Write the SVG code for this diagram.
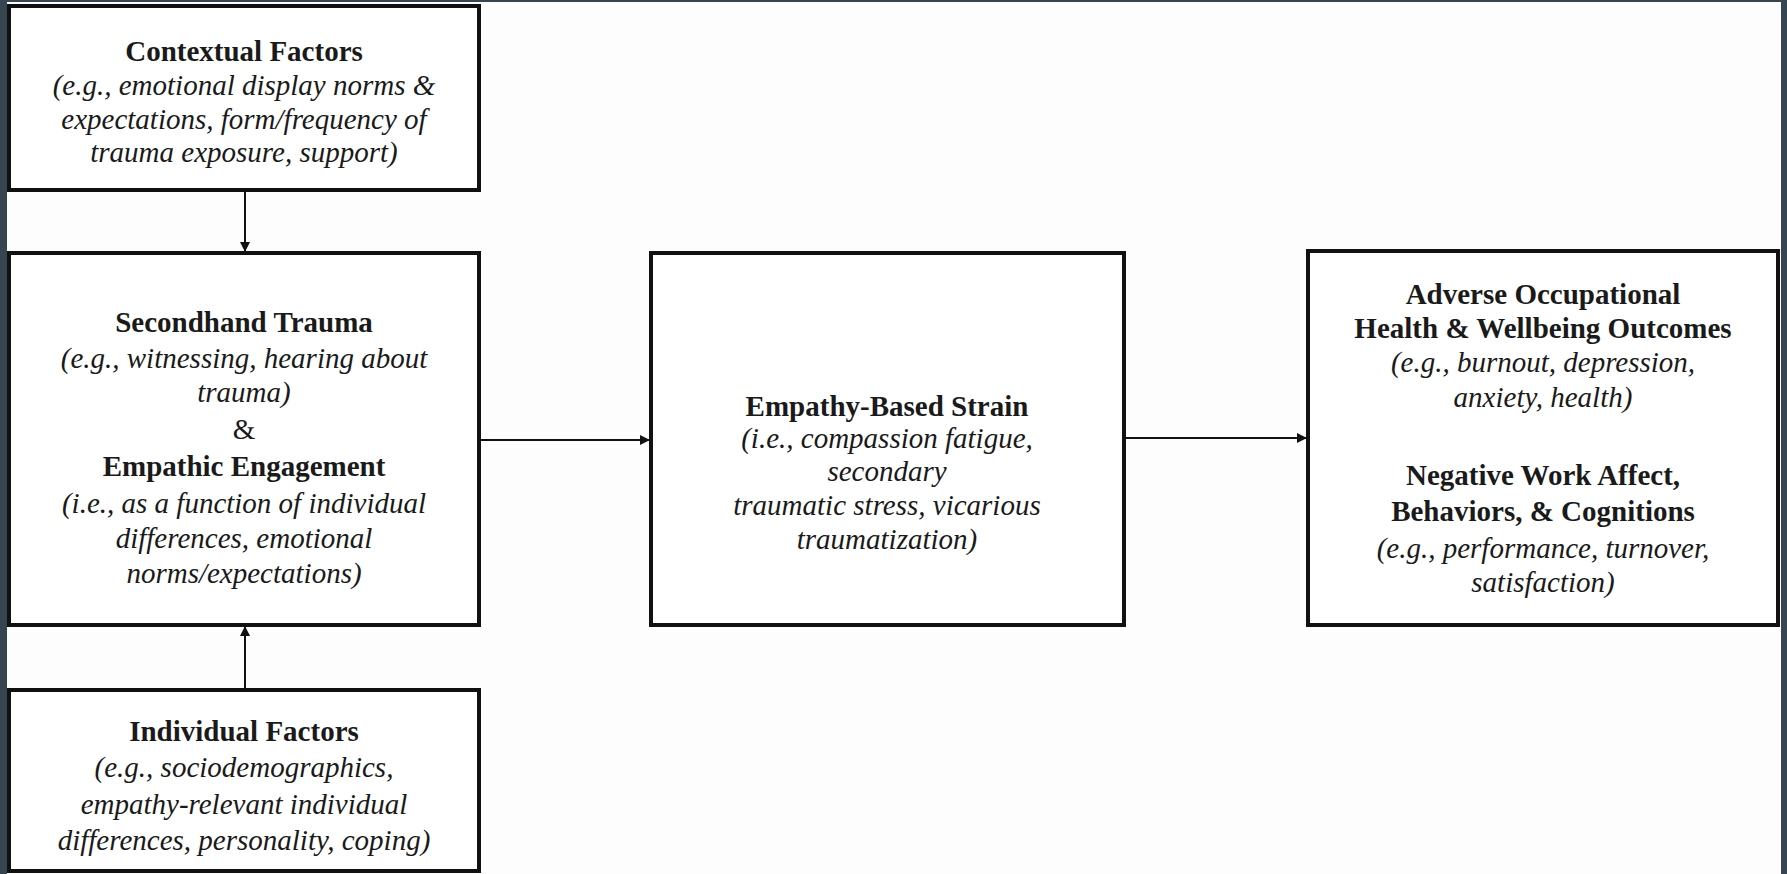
<svg xmlns="http://www.w3.org/2000/svg" width="1787" height="874" viewBox="0 0 1787 874">
<style>
.box{fill:#ffffff;stroke:#111111;stroke-width:4}
.t{font-family:"Liberation Serif","Times New Roman",serif;font-size:29px;fill:#1a1a1a;text-anchor:middle}
.b{font-weight:bold}
.i{font-style:italic}
.c{stroke:#111111;stroke-width:2;fill:none}
</style>
<defs>
<marker id="ah" viewBox="0 0 10 10" refX="10" refY="5" markerWidth="5" markerHeight="5" orient="auto" markerUnits="strokeWidth">
<path d="M0,0 L10,5 L0,10 z" fill="#111111"/>
</marker>
</defs>
<rect x="0" y="0" width="1787" height="874" fill="#36454f"/>
<rect x="7" y="2" width="1774" height="872" fill="#fdfdfd"/>
<g id="connectors">
<line class="c" x1="245" y1="191" x2="245" y2="252" marker-end="url(#ah)"/>
<line class="c" x1="245" y1="688" x2="245" y2="626" marker-end="url(#ah)"/>
<line class="c" x1="481" y1="440" x2="650" y2="440" marker-end="url(#ah)"/>
<line class="c" x1="1126" y1="438" x2="1307" y2="438" marker-end="url(#ah)"/>
</g>
<g id="contextual">
<rect class="box" x="9" y="6" width="470" height="184"/>
<text class="t b" x="244" y="61">Contextual Factors</text>
<text class="t i" x="244" y="95">(e.g., emotional display norms &amp;</text>
<text class="t i" x="244" y="129">expectations, form/frequency of</text>
<text class="t i" x="244" y="162">trauma exposure, support)</text>
</g>
<g id="secondhand">
<rect class="box" x="9" y="253" width="470" height="372"/>
<text class="t b" x="244" y="332">Secondhand Trauma</text>
<text class="t i" x="244" y="368">(e.g., witnessing, hearing about</text>
<text class="t i" x="244" y="402">trauma)</text>
<text class="t" x="244" y="439">&amp;</text>
<text class="t b" x="244" y="476">Empathic Engagement</text>
<text class="t i" x="244" y="513">(i.e., as a function of individual</text>
<text class="t i" x="244" y="548">differences, emotional</text>
<text class="t i" x="244" y="583">norms/expectations)</text>
</g>
<g id="individual">
<rect class="box" x="9" y="690" width="470" height="181"/>
<text class="t b" x="244" y="741">Individual Factors</text>
<text class="t i" x="244" y="777">(e.g., sociodemographics,</text>
<text class="t i" x="244" y="814">empathy-relevant individual</text>
<text class="t i" x="244" y="850">differences, personality, coping)</text>
</g>
<g id="strain">
<rect class="box" x="651" y="253" width="473" height="372"/>
<text class="t b" x="887" y="416">Empathy-Based Strain</text>
<text class="t i" x="887" y="448">(i.e., compassion fatigue,</text>
<text class="t i" x="887" y="481">secondary</text>
<text class="t i" x="887" y="515">traumatic stress, vicarious</text>
<text class="t i" x="887" y="549">traumatization)</text>
</g>
<g id="outcomes">
<rect class="box" x="1308" y="251" width="470" height="374"/>
<text class="t b" x="1543" y="304">Adverse Occupational</text>
<text class="t b" x="1543" y="338">Health &amp; Wellbeing Outcomes</text>
<text class="t i" x="1543" y="372">(e.g., burnout, depression,</text>
<text class="t i" x="1543" y="407">anxiety, health)</text>
<text class="t b" x="1543" y="485">Negative Work Affect,</text>
<text class="t b" x="1543" y="521">Behaviors, &amp; Cognitions</text>
<text class="t i" x="1543" y="558">(e.g., performance, turnover,</text>
<text class="t i" x="1543" y="592">satisfaction)</text>
</g>
</svg>
